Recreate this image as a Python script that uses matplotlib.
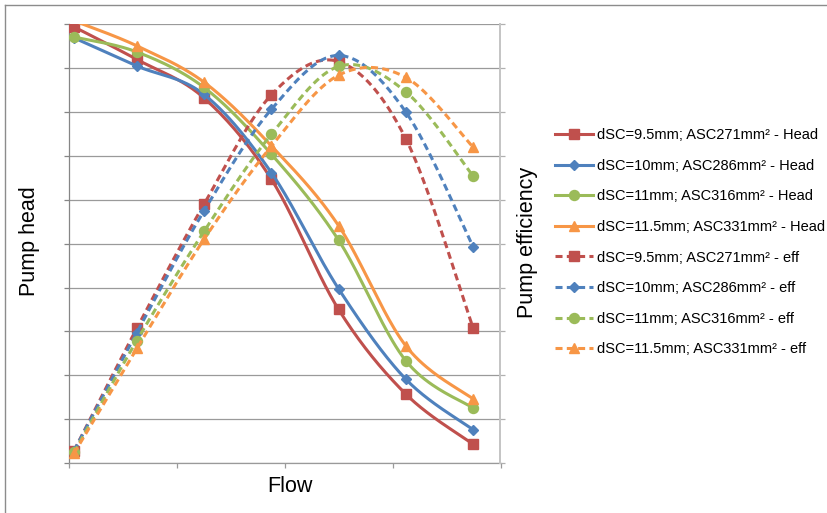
import numpy as np
import matplotlib
matplotlib.use("Agg")
import matplotlib.pyplot as plt
from matplotlib.lines import Line2D

plt.rcParams['font.family'] = ['Liberation Sans', 'DejaVu Sans']

# ---- data (arbitrary normalized units) ----
flow = [0.22, 3.13, 6.25, 9.37, 12.49, 15.61, 18.73]

head_95 = [9.94, 9.20, 8.32, 6.47, 3.50, 1.57, 0.43]
head_10 = [9.69, 9.05, 8.40, 6.62, 3.97, 1.91, 0.76]
head_11 = [9.71, 9.37, 8.56, 7.04, 5.08, 2.33, 1.25]
head_115 = [10.08, 9.51, 8.68, 7.23, 5.41, 2.67, 1.46]

eff_95 = [0.28, 3.07, 5.90, 8.39, 9.15, 7.39, 3.08]
eff_10 = [0.28, 2.97, 5.75, 8.06, 9.29, 8.00, 4.93]
eff_11 = [0.24, 2.79, 5.28, 7.49, 9.04, 8.46, 6.54]
eff_115 = [0.22, 2.61, 5.10, 7.22, 8.84, 8.79, 7.20]

labels_head = ["dSC=9.5mm; ASC271mm² - Head", "dSC=10mm; ASC286mm² - Head",
               "dSC=11mm; ASC316mm² - Head", "dSC=11.5mm; ASC331mm² - Head"]
labels_eff = ["dSC=9.5mm; ASC271mm² - eff", "dSC=10mm; ASC286mm² - eff",
              "dSC=11mm; ASC316mm² - eff", "dSC=11.5mm; ASC331mm² - eff"]

colors = ["#C0504D", "#4F81BD", "#9BBB59", "#F79646"]
markers = ["s", "D", "o", "^"]
msizes = [7.0, 5.0, 7.2, 7.8]


def smooth(x, y, n=40):
    """Excel-like smoothed line: cubic Bezier (Catmull-Rom style)."""
    x = np.asarray(x, float)
    y = np.asarray(y, float)
    P = np.column_stack([x, y])
    pts = []
    m = len(P)
    for i in range(m - 1):
        p0 = P[i - 1] if i > 0 else P[i]
        p1 = P[i]
        p2 = P[i + 1]
        p3 = P[i + 2] if i + 2 < m else P[i + 1]
        c1 = p1 + (p2 - p0) / 6.0
        c2 = p2 - (p3 - p1) / 6.0
        t = np.linspace(0, 1, n, endpoint=(i == m - 2))[:, None]
        b = ((1 - t) ** 3) * p1 + 3 * ((1 - t) ** 2) * t * c1 + 3 * (1 - t) * t ** 2 * c2 + t ** 3 * p2
        pts.append(b)
    pts = np.vstack(pts)
    return pts[:, 0], pts[:, 1]


W, H = 828, 513
fig = plt.figure(figsize=(W / 100, H / 100), dpi=100)
L, R, T, B = 69.3, 500.5, 24.3, 463.0
ax = fig.add_axes([L / W, 1 - B / H, (R - L) / W, (B - T) / H])
ax2 = ax.twinx()

ax.set_xlim(0, 20)
ax.set_ylim(0, 10)
ax2.set_ylim(0, 10)
ax.set_xticks([0, 5, 10, 15, 20])
ax.set_yticks(np.arange(0, 11, 1))
ax2.set_yticks(np.arange(0, 11, 1))
ax.set_xticklabels([])
ax.set_yticklabels([])
ax2.set_yticklabels([])

grid_c = "#9a9a9a"
ax.grid(axis="y", color=grid_c, lw=0.9, zorder=0)
ax.set_axisbelow(True)
ax.spines["top"].set_visible(False)
ax2.spines["top"].set_visible(False)
ax2.patch.set_visible(False)
ax.spines["left"].set_color("#868686")
ax.spines["left"].set_linewidth(0.9)
ax.spines["bottom"].set_color(grid_c)
ax.spines["bottom"].set_linewidth(0.9)
ax.spines["right"].set_visible(False)
ax2.spines["left"].set_visible(False)
ax2.spines["bottom"].set_visible(False)
ax2.spines["right"].set_color("#c4c4c4")
ax2.spines["right"].set_linewidth(1.4)
ax.tick_params(axis="x", direction="out", length=3.5, width=0.9, color=grid_c)
ax.tick_params(axis="y", direction="out", length=3.5, width=0.9, color="#868686")
ax2.tick_params(axis="y", direction="out", length=3.5, width=0.9, color="#b0b0b0")

lw = 2.2
heads = [head_95, head_10, head_11, head_115]
effs = [eff_95, eff_10, eff_11, eff_115]
dash = (0, (2.3, 1.4))

handles = []
for i, hv in enumerate(heads):
    sx, sy = smooth(flow, hv)
    ax.plot(sx, sy, color=colors[i], lw=lw, solid_capstyle="round", zorder=3 + i)
    mk = slice(1, None) if hv[0] > 10 else slice(None)
    ax.plot(np.asarray(flow)[mk], np.asarray(hv)[mk], ls="none", marker=markers[i],
            ms=msizes[i], color=colors[i], mec=colors[i], zorder=3 + i)
    handles.append(Line2D([], [], color=colors[i], lw=lw, marker=markers[i],
                          ms=msizes[i], mec=colors[i], label=labels_head[i]))

for i, ev in enumerate(effs):
    sx, sy = smooth(flow, ev)
    ax2.plot(sx, sy, color=colors[i], lw=lw, ls=dash, dash_capstyle="butt", zorder=3 + i)
    ax2.plot(flow, ev, ls="none", marker=markers[i], ms=msizes[i], color=colors[i],
             mec=colors[i], zorder=3 + i)
    handles.append(Line2D([], [], color=colors[i], lw=lw, ls=dash, dash_capstyle="butt",
                          marker=markers[i], ms=msizes[i], mec=colors[i], label=labels_eff[i]))

fig.legend(handles=handles, loc="upper left", bbox_to_anchor=(555 / W, 1 - 128 / H),
           frameon=False, fontsize=10.5, handlelength=2.6, handletextpad=0.3,
           labelspacing=1.14, borderpad=0, borderaxespad=0)

fig.text(30 / W, 1 - 241 / H, "Pump head", rotation=90, ha="center", va="center", fontsize=15.5)
fig.text(527 / W, 1 - 242 / H, "Pump efficiency", rotation=90, ha="center", va="center", fontsize=15.5)
fig.text(289.5 / W, 1 - 487 / H, "Flow", ha="center", va="center", fontsize=15.5)

# outer chart border (only top/left visible in the crop)
bc = "#8c8c8c"
fig.add_artist(Line2D([4.7 / W, 1.01], [1 - 5.3 / H, 1 - 5.3 / H], transform=fig.transFigure, color=bc, lw=1.0))
fig.add_artist(Line2D([4.7 / W, 4.7 / W], [1 - 5.3 / H, -0.01], transform=fig.transFigure, color=bc, lw=1.0))

fig.savefig("out.png", dpi=100)
